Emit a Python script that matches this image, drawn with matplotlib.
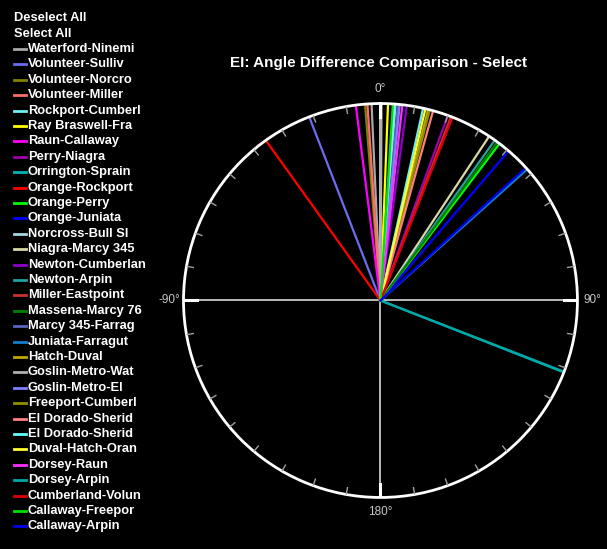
import numpy as np
import matplotlib.pyplot as plt
from matplotlib.lines import Line2D

plt.rcParams['font.family'] = ['Liberation Sans', 'DejaVu Sans']

# line names, colours and angle differences (degrees, clockwise from north)
names = [
    'Waterford-Ninemi', 'Volunteer-Sulliv', 'Volunteer-Norcro', 'Volunteer-Miller',
    'Rockport-Cumberl', 'Ray Braswell-Fra', 'Raun-Callaway', 'Perry-Niagra',
    'Orrington-Sprain', 'Orange-Rockport', 'Orange-Perry', 'Orange-Juniata',
    'Norcross-Bull Sl', 'Niagra-Marcy 345', 'Newton-Cumberlan', 'Newton-Arpin',
    'Miller-Eastpoint', 'Massena-Marcy 76', 'Marcy 345-Farrag', 'Juniata-Farragut',
    'Hatch-Duval', 'Goslin-Metro-Wat', 'Goslin-Metro-El', 'Freeport-Cumberl',
    'El Dorado-Sherid', 'El Dorado-Sherid', 'Duval-Hatch-Oran', 'Dorsey-Raun',
    'Dorsey-Arpin', 'Cumberland-Volun', 'Callaway-Freepor', 'Callaway-Arpin',
]
colors = [
    '#a8a8a8', '#6c6cf0', '#808000', '#ff6c6c',
    '#70f0f0', '#ffff00', '#ff00ff', '#a000a8',
    '#00b4b4', '#ff0000', '#00ff00', '#0000ff',
    '#a8d8e0', '#d8d8a8', '#8c00c8', '#28a0a0',
    '#c83232', '#008000', '#5a64c0', '#1080c8',
    '#c0a800', '#b0b0b0', '#8080ff', '#909000',
    '#ff8080', '#60ffff', '#ffff30', '#ff30ff',
    '#00a8a8', '#e00000', '#00e000', '#0000e8',
]
angles = [
    -2.6, -21.2, -4.5, -3.8,
    12.5, 2.2, -7.2, 20.0,
    111.4, -35.6, 37.2, 40.6,
    4.4, 33.5, 7.7, 35.5,
    21.0, 36.4, 5.1, 48.2,
    14.0, 0.3, 5.6, 14.5,
    15.5, 4.0, 13.2, 6.4,
    111.2, 21.5, 3.6, 47.6,
]

fig = plt.figure(figsize=(6.07, 5.49), dpi=100, facecolor='black')
ax = fig.add_axes([0.3023, 0.0938, 0.649, 0.7177], projection='polar')
ax.set_facecolor('black')
ax.set_theta_zero_location('N')
ax.set_theta_direction(-1)

for name, col, ang in zip(names, colors, angles):
    th = np.deg2rad(ang)
    ax.plot([th, th], [0, 1], color=col, lw=1.6, label=name)

# compass ticks: every 10 degrees, longer at the quarters
for deg in range(0, 360, 10):
    th = np.deg2rad(deg)
    if deg % 90 == 0:
        ax.plot([th, th], [0.93, 1], color='white', lw=2.2, zorder=4)
    else:
        ax.plot([th, th], [0.965, 1], color='#a0a0a0', lw=1, zorder=4)

ax.set_ylim(0, 1)
ax.set_rgrids([])
ax.set_thetagrids([0, 90, 180, 270], ['0°', '90°', '180°', '-90°'])
ax.xaxis.grid(True, color='#c8c8c8', lw=1.3)
ax.tick_params(axis='x', labelcolor='#c8c8c8', labelsize=8.5, pad=0)
ax.spines['polar'].set_color('white')
ax.spines['polar'].set_linewidth(2)

fig.text(0.6235, 0.885, 'EI: Angle Difference Comparison - Select', color='white',
         fontsize=11, fontweight='bold', ha='center', va='center')

# selectable legend on the left
W, H = 607, 549
fig.text(14 / W, 1 - 18 / H, 'Deselect All', color='white', fontsize=9.3,
         fontweight='bold', va='center')
fig.text(14 / W, 1 - 34 / H, 'Select All', color='white', fontsize=9.3,
         fontweight='bold', va='center')
for i, (name, col) in enumerate(zip(names, colors)):
    y = 1 - (49 + i * 15.4) / H
    fig.add_artist(Line2D([14 / W, 26 / W], [y, y], color=col, lw=2,
                          transform=fig.transFigure))
    fig.text(28 / W, y, name, color='white', fontsize=9.3, fontweight='bold',
             va='center')

fig.savefig('out.png', dpi=100, facecolor='black')
